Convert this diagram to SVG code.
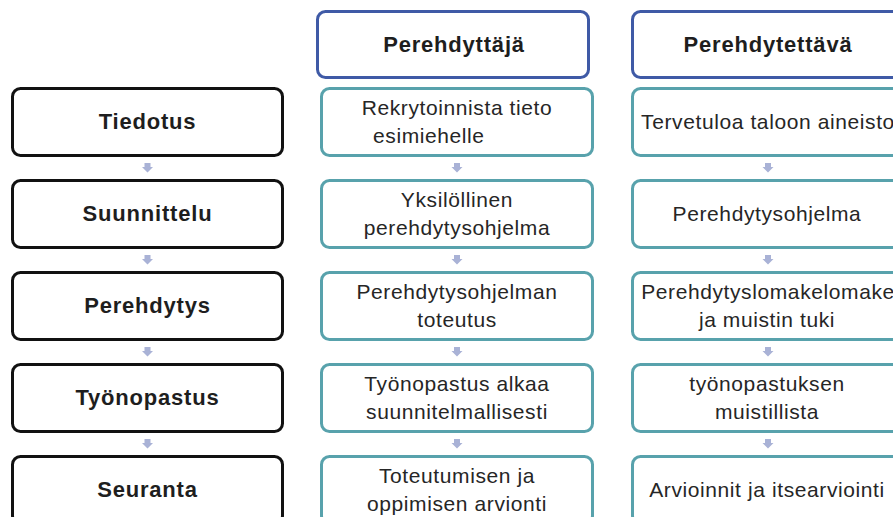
<svg xmlns="http://www.w3.org/2000/svg" width="893" height="517" viewBox="0 0 893 517">
<defs>
<style>
.bg{fill:#ffffff}
.lbox{fill:#ffffff;stroke:#111111;stroke-width:3}
.tbox{fill:#ffffff;stroke:#58a2ac;stroke-width:3}
.hbox{fill:#ffffff;stroke:#3f5aa6;stroke-width:3}
.b{font-family:"Liberation Sans",Arial,sans-serif;font-weight:bold;font-size:22px;letter-spacing:0.8px;fill:#1e1e1e;text-anchor:middle}
.r{font-family:"Liberation Sans",Arial,sans-serif;font-size:21px;letter-spacing:0.6px;fill:#262626;text-anchor:middle}
.arr{fill:#a9b2d6}
</style>
<polygon id="a" class="arr" points="-3,0 3,0 3,4 5.5,4 0,9.5 -5.5,4 -3,4"/>
</defs>
<rect class="bg" x="0" y="0" width="893" height="517"/>

<g id="connectors">
<use href="#a" x="147.5" y="163"/>
<use href="#a" x="147.5" y="255"/>
<use href="#a" x="147.5" y="347"/>
<use href="#a" x="147.5" y="439"/>
<use href="#a" x="457" y="163"/>
<use href="#a" x="457" y="255"/>
<use href="#a" x="457" y="347"/>
<use href="#a" x="457" y="439"/>
<use href="#a" x="768" y="163"/>
<use href="#a" x="768" y="255"/>
<use href="#a" x="768" y="347"/>
<use href="#a" x="768" y="439"/>
</g>

<g id="header-perehdyttaja">
<rect class="hbox" x="317.5" y="11.5" width="271" height="66" rx="8"/>
<text class="b" x="454" y="52">Perehdyttäjä</text>
</g>
<g id="header-perehdytettava">
<rect class="hbox" x="632.5" y="11.5" width="272" height="66" rx="8"/>
<text class="b" x="768" y="52">Perehdytettävä</text>
</g>

<g id="tiedotus">
<rect class="lbox" x="12.5" y="88.5" width="270" height="67" rx="8"/>
<text class="b" x="147.5" y="129">Tiedotus</text>
</g>
<g id="suunnittelu">
<rect class="lbox" x="12.5" y="180.5" width="270" height="67" rx="8"/>
<text class="b" x="147.5" y="221">Suunnittelu</text>
</g>
<g id="perehdytys">
<rect class="lbox" x="12.5" y="272.5" width="270" height="67" rx="8"/>
<text class="b" x="147.5" y="313">Perehdytys</text>
</g>
<g id="tyonopastus">
<rect class="lbox" x="12.5" y="364.5" width="270" height="67" rx="8"/>
<text class="b" x="147.5" y="405">Työnopastus</text>
</g>
<g id="seuranta">
<rect class="lbox" x="12.5" y="456.5" width="270" height="67" rx="8"/>
<text class="b" x="147.5" y="497">Seuranta</text>
</g>

<g id="m1">
<rect class="tbox" x="321.5" y="88.5" width="271" height="67" rx="8"/>
<text class="r" x="457" y="115">Rekrytoinnista tieto</text>
<text class="r" x="373" y="143" style="text-anchor:start">esimiehelle</text>
</g>
<g id="m2">
<rect class="tbox" x="321.5" y="180.5" width="271" height="67" rx="8"/>
<text class="r" x="457" y="207">Yksilöllinen</text>
<text class="r" x="457" y="235">perehdytysohjelma</text>
</g>
<g id="m3">
<rect class="tbox" x="321.5" y="272.5" width="271" height="67" rx="8"/>
<text class="r" x="457" y="299">Perehdytysohjelman</text>
<text class="r" x="457" y="327">toteutus</text>
</g>
<g id="m4">
<rect class="tbox" x="321.5" y="364.5" width="271" height="67" rx="8"/>
<text class="r" x="457" y="391">Työnopastus alkaa</text>
<text class="r" x="457" y="419">suunnitelmallisesti</text>
</g>
<g id="m5">
<rect class="tbox" x="321.5" y="456.5" width="271" height="67" rx="8"/>
<text class="r" x="457" y="483">Toteutumisen ja</text>
<text class="r" x="457" y="511">oppimisen arvionti</text>
</g>

<g id="r1">
<rect class="tbox" x="632.5" y="88.5" width="272" height="67" rx="8"/>
<text class="r" x="768" y="129">Tervetuloa taloon aineisto</text>
</g>
<g id="r2">
<rect class="tbox" x="632.5" y="180.5" width="272" height="67" rx="8"/>
<text class="r" x="767" y="221">Perehdytysohjelma</text>
</g>
<g id="r3">
<rect class="tbox" x="632.5" y="272.5" width="272" height="67" rx="8"/>
<text class="r" x="768" y="299">Perehdytyslomakelomake</text>
<text class="r" x="767" y="327">ja muistin tuki</text>
</g>
<g id="r4">
<rect class="tbox" x="632.5" y="364.5" width="272" height="67" rx="8"/>
<text class="r" x="767" y="391">työnopastuksen</text>
<text class="r" x="767" y="419">muistillista</text>
</g>
<g id="r5">
<rect class="tbox" x="632.5" y="456.5" width="272" height="67" rx="8"/>
<text class="r" x="767" y="497">Arvioinnit ja itsearviointi</text>
</g>
</svg>
